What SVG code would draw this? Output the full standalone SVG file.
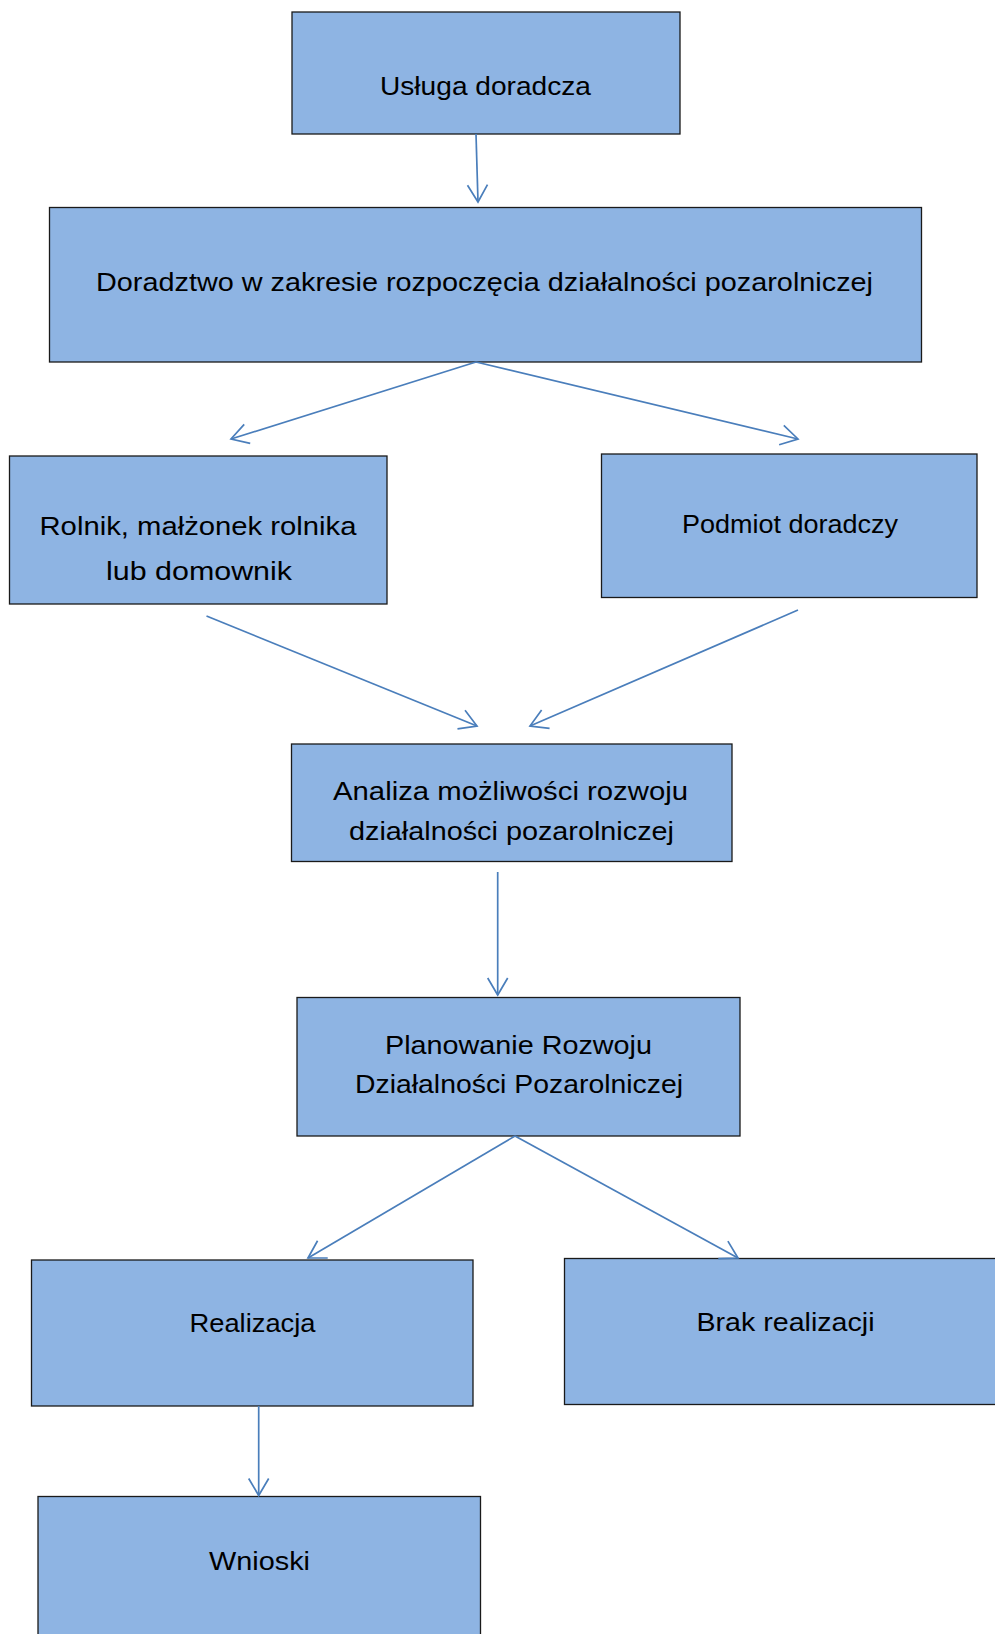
<svg xmlns="http://www.w3.org/2000/svg" width="995" height="1634" viewBox="0 0 995 1634">
<style>
.box{fill:#8EB4E3;stroke:#1a1a1a;stroke-width:1.3}
.t{font-family:"Liberation Sans",Arial,sans-serif;font-size:26px;fill:#000;text-anchor:middle}
.c{stroke:#4A7EBB;stroke-width:1.7;fill:none}
</style>
<defs>
<marker id="arr" markerUnits="userSpaceOnUse" orient="auto" refX="0" refY="0" markerWidth="24" markerHeight="24" viewBox="-20 -12 22 24" overflow="visible">
<path d="M-17,-10 L0,0 L-17,10" fill="none" stroke="#4A7EBB" stroke-width="1.7"/>
</marker>
</defs>
<rect width="995" height="1634" fill="#fff"/>
<g id="n1"><rect class="box" x="292" y="12" width="388" height="122"/><text class="t" x="485.5" y="95" textLength="211" lengthAdjust="spacingAndGlyphs">Usługa doradcza</text></g>
<g id="n2"><rect class="box" x="49.5" y="207.5" width="872" height="154.5"/><text class="t" x="484.5" y="290.5" textLength="777" lengthAdjust="spacingAndGlyphs">Doradztwo w zakresie rozpoczęcia działalności pozarolniczej</text></g>
<g id="n3"><rect class="box" x="9.5" y="456" width="377.5" height="148"/><text class="t" x="198" y="534.5" textLength="317" lengthAdjust="spacingAndGlyphs">Rolnik, małżonek rolnika</text><text class="t" x="199" y="580" textLength="186" lengthAdjust="spacingAndGlyphs">lub domownik</text></g>
<g id="n4"><rect class="box" x="601.5" y="454" width="375.5" height="143.5"/><text class="t" x="790" y="532.5" textLength="216" lengthAdjust="spacingAndGlyphs">Podmiot doradczy</text></g>
<g id="n5"><rect class="box" x="291.5" y="744" width="440.5" height="117.5"/><text class="t" x="510.5" y="800" textLength="355" lengthAdjust="spacingAndGlyphs">Analiza możliwości rozwoju</text><text class="t" x="511.5" y="840" textLength="325" lengthAdjust="spacingAndGlyphs">działalności pozarolniczej</text></g>
<g id="n6"><rect class="box" x="297" y="997.5" width="443" height="138.5"/><text class="t" x="518.5" y="1054" textLength="267" lengthAdjust="spacingAndGlyphs">Planowanie Rozwoju</text><text class="t" x="519" y="1093" textLength="328" lengthAdjust="spacingAndGlyphs">Działalności Pozarolniczej</text></g>
<g id="n7"><rect class="box" x="31.5" y="1260" width="441.5" height="146"/><text class="t" x="252.5" y="1332" textLength="126" lengthAdjust="spacingAndGlyphs">Realizacja</text></g>
<g id="n8"><rect class="box" x="564.5" y="1258.5" width="440" height="146"/><text class="t" x="785.5" y="1331" textLength="178" lengthAdjust="spacingAndGlyphs">Brak realizacji</text></g>
<g id="n9"><rect class="box" x="38" y="1496.5" width="442.5" height="160"/><text class="t" x="259.5" y="1570" textLength="101" lengthAdjust="spacingAndGlyphs">Wnioski</text></g>
<g id="connectors">
<line class="c" x1="476" y1="134" x2="478" y2="202" marker-end="url(#arr)"/>
<line class="c" x1="476" y1="362" x2="231" y2="439" marker-end="url(#arr)"/>
<line class="c" x1="476" y1="362" x2="798" y2="439" marker-end="url(#arr)"/>
<line class="c" x1="206.5" y1="616" x2="477" y2="726" marker-end="url(#arr)"/>
<line class="c" x1="798" y1="610" x2="530" y2="726" marker-end="url(#arr)"/>
<line class="c" x1="497.7" y1="872" x2="497.7" y2="995" marker-end="url(#arr)"/>
<line class="c" x1="515" y1="1136" x2="308" y2="1258" marker-end="url(#arr)"/>
<line class="c" x1="515" y1="1136" x2="738" y2="1258" marker-end="url(#arr)"/>
<line class="c" x1="258.7" y1="1406" x2="258.7" y2="1495.5" marker-end="url(#arr)"/>
</g>
</svg>
